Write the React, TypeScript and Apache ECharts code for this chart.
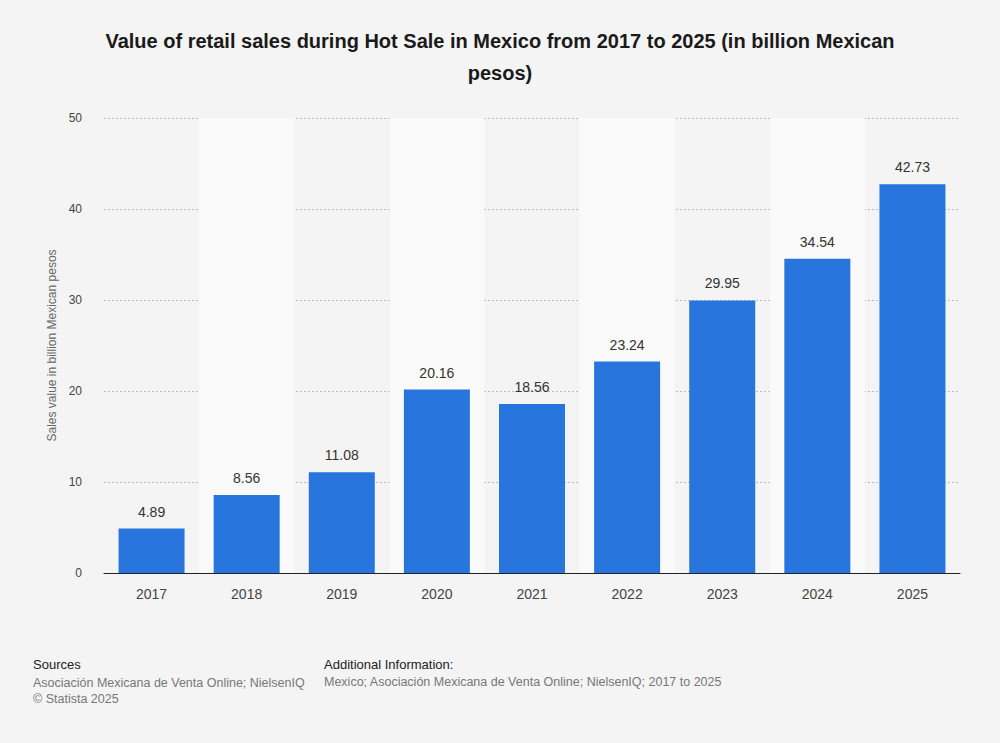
import React, { useEffect, useRef } from "react";
import * as echarts from "echarts";

const years = ["2017", "2018", "2019", "2020", "2021", "2022", "2023", "2024", "2025"];
const sales = [4.89, 8.56, 11.08, 20.16, 18.56, 23.24, 29.95, 34.54, 42.73];

const App: React.FC = () => {
  const ref = useRef<HTMLDivElement>(null);

  useEffect(() => {
    if (!ref.current) return;
    const chart = echarts.init(ref.current, null, { renderer: "svg" });
    chart.setOption({
      animation: false,
      backgroundColor: "#f4f4f4",
      textStyle: { fontFamily: "Liberation Sans, Arial, sans-serif" },
      title: {
        text: "Value of retail sales during Hot Sale in Mexico from 2017 to 2025 (in billion Mexican\npesos)",
        left: "center",
        top: 20,
        textStyle: { fontSize: 20, fontWeight: "bold", color: "#1a1a1a", lineHeight: 32 },
      },
      grid: { left: 104, right: 40, top: 118, bottom: 170 },
      xAxis: {
        type: "category",
        data: years,
        axisLine: { lineStyle: { color: "#222", width: 1 } },
        axisTick: { show: false },
        axisLabel: { color: "#444", fontSize: 14, margin: 14 },
        splitArea: { show: true, areaStyle: { color: ["rgba(0,0,0,0)", "#fafafa"] } },
      },
      yAxis: {
        type: "value",
        min: 0,
        max: 50,
        interval: 10,
        name: "Sales value in billion Mexican pesos",
        nameLocation: "middle",
        nameGap: 46,
        nameTextStyle: { color: "#666", fontSize: 12 },
        axisLabel: { color: "#444", fontSize: 12, margin: 22 },
        axisLine: { show: false },
        splitLine: { lineStyle: { color: "#bbb", type: [2, 2] } },
      },
      series: [
        {
          type: "bar",
          data: sales,
          barWidth: 66,
          itemStyle: { color: "#2876dd" },
          label: {
            show: true,
            position: "top",
            distance: 10,
            color: "#333",
            fontSize: 14,
            formatter: (p: any) => p.value.toFixed(2),
          },
        },
      ],
      graphic: [
        { type: "text", left: 33, top: 658, style: { text: "Sources", fontSize: 13, fill: "#222" } },
        {
          type: "text",
          left: 33,
          top: 675,
          style: {
            text: "Asociación Mexicana de Venta Online; NielsenIQ\n© Statista 2025",
            fontSize: 12.5,
            lineHeight: 16,
            fill: "#777",
          },
        },
        { type: "text", left: 324, top: 658, style: { text: "Additional Information:", fontSize: 13, fill: "#222" } },
        {
          type: "text",
          left: 324,
          top: 675,
          style: {
            text: "Mexico; Asociación Mexicana de Venta Online; NielsenIQ; 2017 to 2025",
            fontSize: 12.5,
            fill: "#777",
          },
        },
      ],
    });
    return () => chart.dispose();
  }, []);

  return <div ref={ref} style={{ position: "fixed", left: 0, top: 0, width: 1000, height: 743 }} />;
};

export default App;
